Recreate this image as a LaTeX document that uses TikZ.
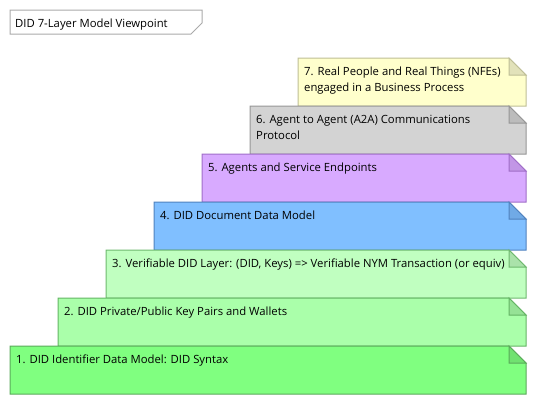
\documentclass[tikz,border=0pt]{standalone}
\usepackage{fontspec}
\setmainfont{Open Sans}
\definecolor{f7}{RGB}{255,255,204}\definecolor{d7}{RGB}{190,190,150}\definecolor{k7}{RGB}{226,226,186}
\definecolor{f6}{RGB}{211,211,211}\definecolor{d6}{RGB}{150,150,150}\definecolor{k6}{RGB}{188,188,188}
\definecolor{f5}{RGB}{216,170,255}\definecolor{d5}{RGB}{160,110,200}\definecolor{k5}{RGB}{194,150,230}
\definecolor{f4}{RGB}{128,191,255}\definecolor{d4}{RGB}{80,130,190}\definecolor{k4}{RGB}{112,170,230}
\definecolor{f3}{RGB}{192,255,192}\definecolor{d3}{RGB}{110,185,110}\definecolor{k3}{RGB}{170,226,170}
\definecolor{f2}{RGB}{170,255,170}\definecolor{d2}{RGB}{100,180,100}\definecolor{k2}{RGB}{150,226,150}
\definecolor{f1}{RGB}{128,255,128}\definecolor{d1}{RGB}{90,170,90}\definecolor{k1}{RGB}{112,226,112}
\definecolor{titleborder}{RGB}{170,170,170}
\tikzset{
  lbl/.style={anchor=base west, inner sep=0pt, font=\fontsize{11.3}{16}\selectfont, text=black},
  edge/.style={line width=1pt},
}
% #1 level, #2 colour suffix
\newcommand{\layerbox}[1]{%
  \pgfmathsetmacro{\xa}{10+48*(#1-1)}%
  \pgfmathsetmacro{\ya}{394-48*#1}%
  \path[edge, fill=f#1, draw=d#1] (\xa,\ya) -- (509,\ya) -- (526,\ya+17) -- (526,\ya+48) -- (\xa,\ya+48) -- cycle;
  \path[edge, fill=k#1, draw=d#1] (509,\ya) -- (509,\ya+17) -- (526,\ya+17) -- cycle;
  \coordinate (t#1) at (\xa+6,\ya+17);
}
\begin{document}
\begin{tikzpicture}[x=1pt,y=-1pt]
\useasboundingbox (0,0) rectangle (537,405);
\foreach \k in {7,6,5,4,3,2,1} {\layerbox{\k}}
\node[lbl] (n7) at (t7) {\parbox[t]{220pt}{\setlength{\baselineskip}{16pt}7. Real People and Real Things (NFEs)\\engaged in a Business Process}};
\node[lbl] (n6) at (t6) {\parbox[t]{260pt}{\setlength{\baselineskip}{16pt}6. Agent to Agent (A2A) Communications\\Protocol}};
\node[lbl] (n5) at (t5) {5. Agents and Service Endpoints};
\node[lbl] (n4) at (t4) {4. DID Document Data Model};
\node[lbl] (n3) at (t3) {3. Verifiable DID Layer: (DID, Keys) => Verifiable NYM Transaction (or equiv)};
\node[lbl] (n2) at (t2) {2. DID Private/Public Key Pairs and Wallets};
\node[lbl] (n1) at (t1) {1. DID Identifier Data Model: DID Syntax};
% title
\path[edge, draw=titleborder, fill=white] (10,10) -- (202,10) -- (202,23) -- (191,34) -- (10,34) -- cycle;
\node[lbl] (title) at (15,27) {DID 7-Layer Model Viewpoint};
\end{tikzpicture}
\end{document}
